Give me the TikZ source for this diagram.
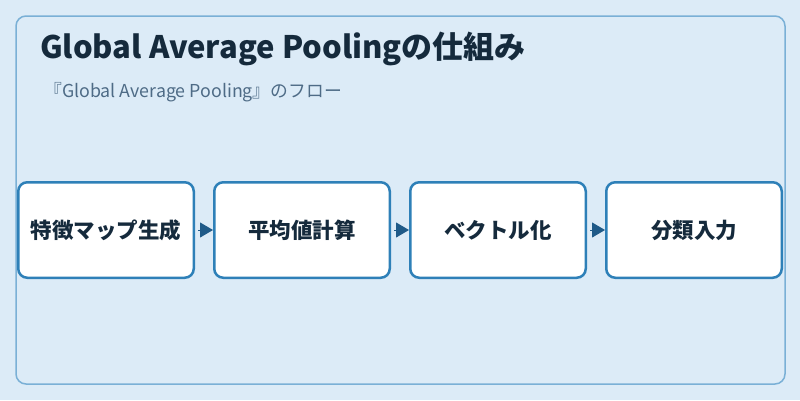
\documentclass[tikz,border=0pt]{standalone}
\usepackage{fontspec}
\setmainfont{Noto Sans CJK JP}
\usepackage{tikz}
\usetikzlibrary{arrows.meta, positioning, calc}

\definecolor{bgblue}{HTML}{DCEBF7}
\definecolor{framecol}{HTML}{7AB0D6}
\definecolor{boxline}{HTML}{2E80B8}
\definecolor{arrcol}{HTML}{1F5A88}
\definecolor{titlecol}{HTML}{152A3C}
\definecolor{subcol}{HTML}{4E6B86}

\tikzset{
	flowbox/.style={rectangle, draw=boxline, line width=2.5pt, fill=white, rounded corners=9pt, align=center, minimum width=175.5pt, minimum height=95.5pt, inner sep=0pt, font=\fontsize{21.5pt}{23pt}\selectfont\bfseries, text=titlecol},
	flowarr/.style={-{Triangle[length=13pt,width=15pt]}, arrcol, line width=1pt, shorten <=3pt}
}

\begin{document}
\begin{tikzpicture}[x=1pt, y=-1pt]
		\fill[bgblue] (0,0) rectangle (800,400);
		\useasboundingbox (0,0) rectangle (800,400);
		\draw[framecol, line width=1.5pt, rounded corners=10pt] (16,16) rectangle (785,384);
		\node[anchor=base west, inner sep=0pt, font=\fontsize{31pt}{34pt}\selectfont\bfseries, text=titlecol] (title) at (40,58) {Global Average Poolingの仕組み};
		\node[anchor=base west, inner sep=0pt, font=\fontsize{17.8pt}{20pt}\selectfont, text=subcol] (subtitle) at (44,97) {『Global Average Pooling』のフロー};
		% flow steps
		\node[flowbox] (S1) at (106,230) {特徴マップ生成};
		\node[flowbox, right=18pt of S1] (S2) {平均値計算};
		\node[flowbox, right=18pt of S2] (S3) {ベクトル化};
		\node[flowbox, right=18pt of S3] (S4) {分類入力};
		\draw[flowarr] (S1) -- (S2);
		\draw[flowarr] (S2) -- (S3);
		\draw[flowarr] (S3) -- (S4);
		\end{tikzpicture}
\end{document}
